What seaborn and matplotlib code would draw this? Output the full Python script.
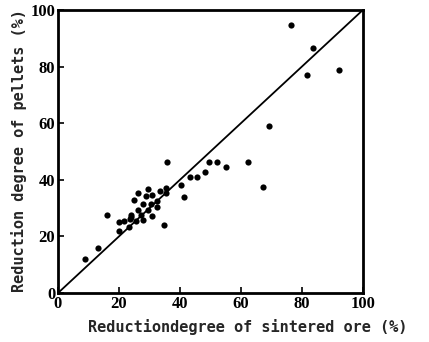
import matplotlib
matplotlib.use("Agg")
import matplotlib.pyplot as plt
import seaborn as sns
import pandas as pd

sinter = [9, 13, 16, 20, 20, 21.6, 23.4, 23.9, 23.9, 23.6, 25.6, 27.8, 25, 26.3, 29.4,
          28.9, 30.9, 28, 26.3, 27.2, 29.4, 30.5, 30.7, 32.6, 32.6, 33.4, 35.4, 35.3,
          34.9, 35.6, 40.2, 41.3, 43.2, 45.6, 48.3, 49.6, 52, 55, 62.2, 67.3, 69.2,
          76.3, 81.5, 83.5, 92.1]
pellet = [12, 16, 27.7, 22, 25.2, 25.4, 23.2, 27.7, 26.9, 26.3, 25.4, 25.7, 33, 35.3, 36.9,
          34.4, 34.6, 31.5, 29.4, 27.7, 29.4, 31.5, 27.2, 32.6, 30.3, 36.1, 37, 35.5,
          24, 46.4, 38.3, 34, 41, 41, 42.7, 46.2, 46.2, 44.5, 46.2, 37.3, 59,
          94.7, 76.9, 86.7, 78.8]
ticks = [0, 20, 40, 60, 80, 100]

df = pd.DataFrame({"sinter": sinter, "pellet": pellet})

sns.set_style("ticks")
plt.rcParams['font.family'] = ['Liberation Serif', 'DejaVu Serif']

fig = plt.figure(figsize=(4.29, 3.42), dpi=100)
ax = fig.add_axes([0.135, 0.143, 0.711, 0.828])
sns.scatterplot(data=df, x="sinter", y="pellet", ax=ax, color="black", s=20,
                edgecolor="black", linewidth=0, zorder=3)
sns.lineplot(x=[0, 100], y=[0, 100], ax=ax, color="black", linewidth=1.3)

ax.set_xlim(0, 100)
ax.set_ylim(0, 100)
ax.set_xticks(ticks)
ax.set_yticks(ticks)
ax.set_xticklabels([str(t) for t in ticks], fontsize=12, fontweight="bold")
ax.set_yticklabels([str(t) for t in ticks], fontsize=12, fontweight="bold")
ax.tick_params(direction="in", length=4, width=1.2, pad=2, colors="black")
for s in ax.spines.values():
    s.set_linewidth(2)
    s.set_color("black")
    s.set_visible(True)
ax.set_xlabel("")
ax.set_ylabel("")
fig.text(0.578, 0.045, "Reductiondegree of sintered ore (%)", ha="center", va="center",
         fontsize=11, family=['DejaVu Sans Mono'], fontweight="bold")
fig.text(0.045, 0.56, "Reduction degree of pellets (%)", ha="center", va="center",
         rotation=90, fontsize=11, family=['DejaVu Sans Mono'], fontweight="bold")

fig.savefig("out.png", dpi=100)
